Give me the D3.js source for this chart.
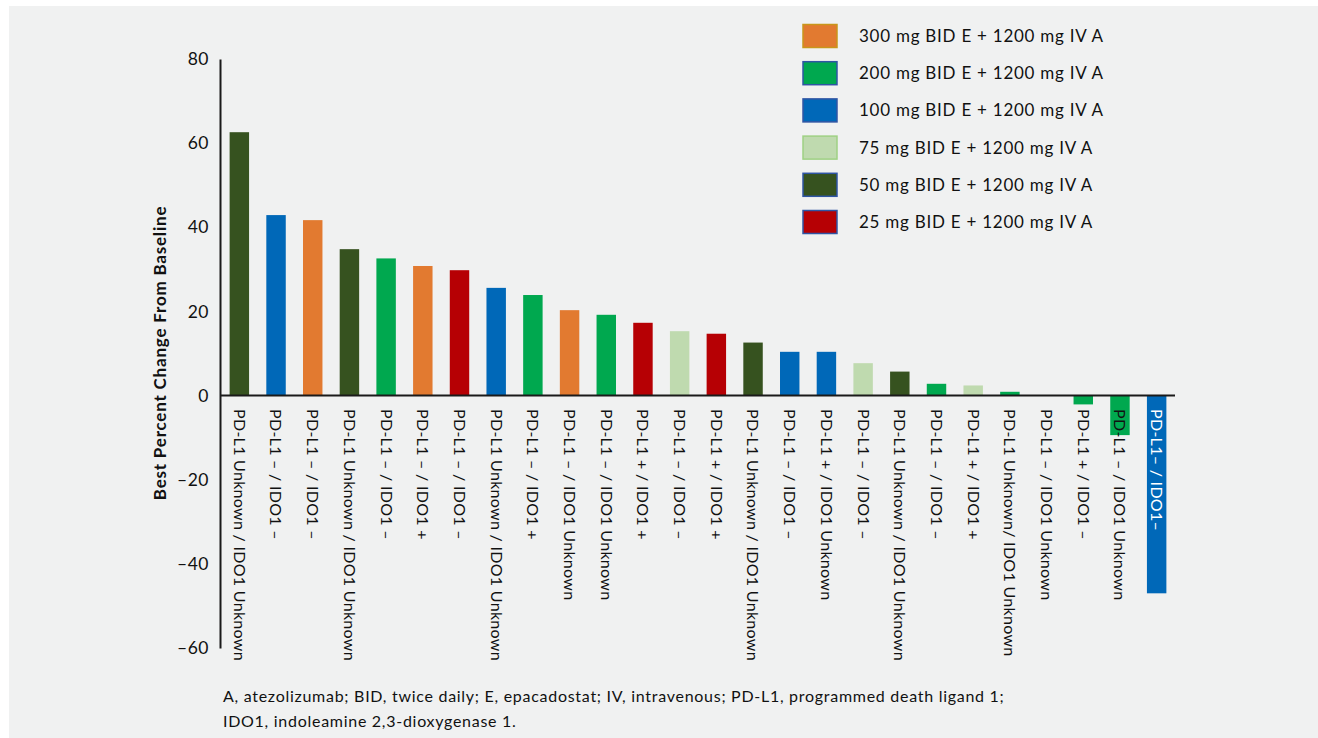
<!DOCTYPE html>
<html>
<head>
<meta charset="utf-8">
<script src="https://cdn.jsdelivr.net/npm/d3@7"></script>
<style>
  html, body { margin: 0; padding: 0; background: #ffffff; }
  svg { display: block; }
  text { font-family: Lato, "Noto Sans", sans-serif; fill: #111; }
</style>
</head>
<body>
<script>
// ---------- data ----------
const categories = [
  "PD-L1 Unknown / IDO1 Unknown", "PD-L1 – / IDO1 –", "PD-L1 – / IDO1 –",
  "PD-L1 Unknown / IDO1 Unknown", "PD-L1 – / IDO1 –", "PD-L1 – / IDO1 +",
  "PD-L1 – / IDO1 –", "PD-L1 Unknown / IDO1 Unknown", "PD-L1 – / IDO1 +",
  "PD-L1 – / IDO1 Unknown", "PD-L1 – / IDO1 Unknown", "PD-L1 + / IDO1 +",
  "PD-L1 – / IDO1 –", "PD-L1 + / IDO1 +", "PD-L1 Unknown / IDO1 Unknown",
  "PD-L1 – / IDO1 –", "PD-L1 + / IDO1 Unknown", "PD-L1 – / IDO1 –",
  "PD-L1 Unknown / IDO1 Unknown", "PD-L1 – / IDO1 –", "PD-L1 + / IDO1 +",
  "PD-L1 Unknown/ IDO1 Unknown", "PD-L1 – / IDO1 Unknown", "PD-L1 + / IDO1 –",
  "PD-L1 – / IDO1 Unknown", "PD-L1– / IDO1–"
];
const values = [
  62.6, 42.9, 41.7, 34.8, 32.6, 30.8, 29.8, 25.6, 23.9, 20.3, 19.2, 17.3, 15.3,
  14.7, 12.6, 10.4, 10.4, 7.7, 5.7, 2.8, 2.4, 0.9, 0, -2.1, -9.4, -47.0
];
const doses = [
  "50", "100", "300", "50", "200", "300", "25", "100", "200", "300", "200", "25", "75",
  "25", "50", "100", "100", "75", "50", "200", "75", "200", "200", "200", "200", "100"
];
const legendDoses = ["300", "200", "100", "75", "50", "25"];
const legendLabels = [
  "300 mg BID E + 1200 mg IV A", "200 mg BID E + 1200 mg IV A",
  "100 mg BID E + 1200 mg IV A", "75 mg BID E + 1200 mg IV A",
  "50 mg BID E + 1200 mg IV A", "25 mg BID E + 1200 mg IV A"
];
const doseColors = ["#e27a30", "#00a84f", "#0068b8", "#bfdaaf", "#36521f", "#b60004"];
const legendBorders = ["#c9961a", "#2f55a4", "#2f55a4", "#9fd184", "#2f55a4", "#2f55a4"];
const yTicks = [80, 60, 40, 20, 0, -20, -40, -60];
const yTitle = "Best Percent Change From Baseline";
const footnote = [
  "A, atezolizumab; BID, twice daily; E, epacadostat; IV, intravenous; PD-L1, programmed death ligand 1;",
  "IDO1, indoleamine 2,3-dioxygenase 1."
];

// ---------- drawing ----------
const W = 1318, H = 738;
const svg = d3.select("body").append("svg").attr("width", W).attr("height", H);

svg.append("rect").attr("x", 9).attr("y", 6).attr("width", W - 9).attr("height", H - 6)
  .attr("fill", "#f0f1f1");

const idx = d3.range(categories.length);
const x = d3.scaleBand().domain(idx).range([221, 1175]).paddingInner(0.47).paddingOuter(0.235);
const y = d3.scaleLinear().domain([-60, 80]).range([648, 59]);
const color = d3.scaleOrdinal().domain(legendDoses).range(doseColors);

// bars
svg.append("g").selectAll("rect").data(idx).join("rect")
  .attr("x", i => x(i))
  .attr("width", x.bandwidth())
  .attr("y", i => y(Math.max(0, values[i])))
  .attr("height", i => Math.abs(y(values[i]) - y(0)))
  .attr("fill", i => color(doses[i]));

// y axis
const yAxis = d3.axisLeft(y).tickValues(yTicks).tickSize(0).tickPadding(11)
  .tickFormat(d => d < 0 ? "–" + Math.abs(d) : String(d));
const gy = svg.append("g").attr("transform", "translate(220,0)").call(yAxis);
gy.select(".domain").attr("stroke", "#1a1a1a").attr("stroke-width", 2);
gy.selectAll(".tick text").attr("font-size", 17.5).attr("font-family", "Lato, sans-serif")
  .attr("fill", "#111").attr("letter-spacing", 0.5);

// zero line
svg.append("line").attr("x1", 220).attr("x2", 1175).attr("y1", y(0)).attr("y2", y(0))
  .attr("stroke", "#1a1a1a").attr("stroke-width", 2);

// category labels
svg.append("g").selectAll("text").data(idx).join("text")
  .attr("transform", i => `translate(${x(i) + x.bandwidth() / 2},409) rotate(90)`)
  .attr("dy", "0.35em")
  .attr("font-size", 16)
  .attr("letter-spacing", 0.3)
  .style("fill", i => i === categories.length - 1 ? "#ffffff" : "#111")
  .text(i => categories[i]);

// y title
svg.append("text")
  .attr("transform", "translate(160,353) rotate(-90)")
  .attr("text-anchor", "middle").attr("dy", "0.35em")
  .attr("font-size", 17).attr("font-weight", "bold")
  .attr("letter-spacing", 0.8)
  .text(yTitle);

// legend
const lg = svg.append("g").selectAll("g").data(legendDoses).join("g")
  .attr("transform", (d, i) => `translate(803,${36 + i * 37.2})`);
lg.append("rect").attr("x", 0).attr("y", -11.5).attr("width", 34).attr("height", 23)
  .attr("fill", d => color(d))
  .attr("stroke", (d, i) => legendBorders[i]).attr("stroke-width", 1.5);
lg.append("text").attr("x", 56).attr("dy", "0.35em").attr("font-size", 17)
  .attr("letter-spacing", 0.75)
  .text((d, i) => legendLabels[i]);

// footnote
svg.append("g").selectAll("text").data(footnote).join("text")
  .attr("x", 223).attr("y", (d, i) => 696 + i * 25).attr("dy", "0.35em")
  .attr("font-size", 16).attr("letter-spacing", 0.72).text(d => d);
</script>
</body>
</html>
